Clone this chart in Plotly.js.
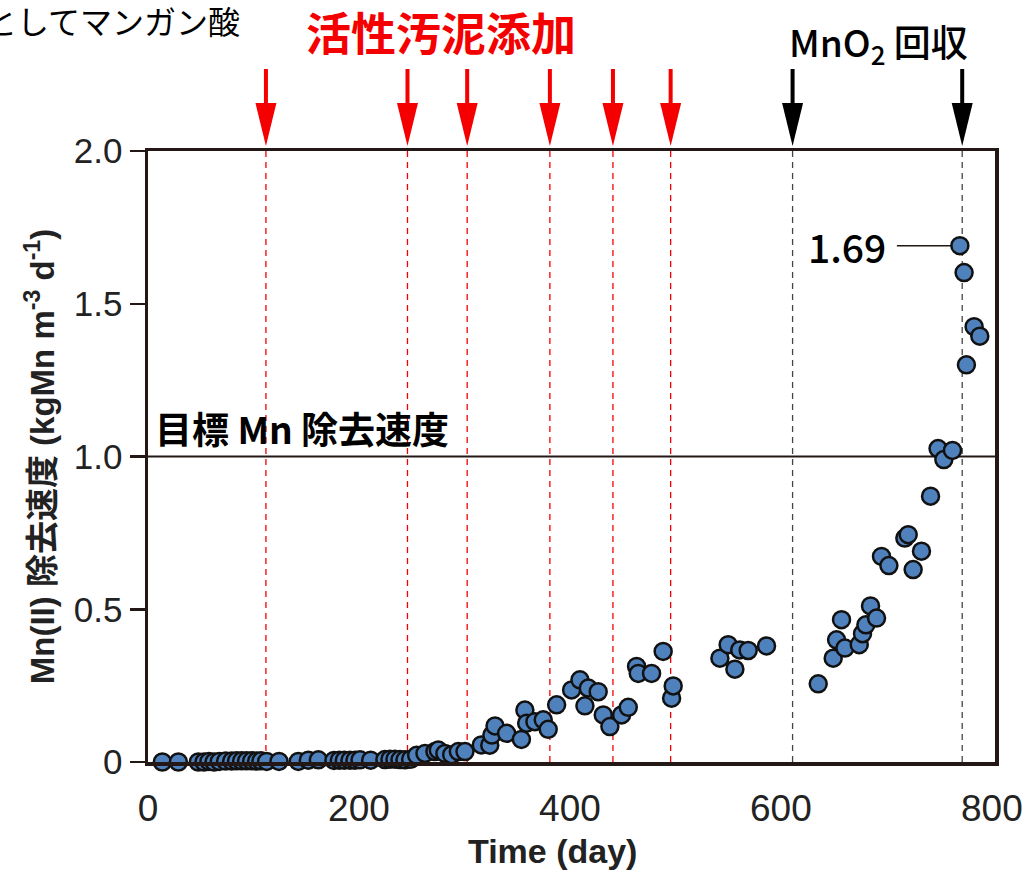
<!DOCTYPE html>
<html>
<head>
<meta charset="utf-8">
<script src="https://cdn.plot.ly/plotly-3.0.1.min.js"></script>
<style>html,body{margin:0;padding:0;background:#fff;}#chart{width:1030px;height:872px;}</style>
</head>
<body>
<div id="chart"></div>
<script>
// ---- data ----
const days = [13.6,28.8,47.7,53.1,57.8,62.6,67.6,73.6,79.3,84,88.8,93.5,98.3,103,107.1,112.5,124.2,142.5,152,161.5,176.3,181.4,186.1,191.5,196.2,201,211.1,224.6,229.4,234.1,238.9,243.6,249,254.7,262.6,272,275.2,281.5,287.9,294.2,300.5,316,324,326,329,340,354,357.3,359,366.8,374.7,379.4,387.4,401.6,409.5,417.4,414.2,426.8,431.6,437.9,449,455.3,463.2,464.8,477.4,488.4,496.4,497.9,542.2,550,556.4,561,569,586.4,635.4,649.6,652.8,657.5,660.7,674.3,677.4,680.6,685,690.7,695.4,702.4,717.5,720.7,725.4,733.3,741.9,749,754.5,762.7,769.7,773.7,775.9,783.2,788.6];
const rates = [0,0,0,0,0.002,0,0.002,0.003,0.003,0.004,0.004,0.004,0.004,0.003,0.004,0.002,0.002,0.002,0.006,0.007,0.005,0.006,0.006,0.006,0.006,0.007,0.006,0.008,0.009,0.009,0.008,0.007,0.009,0.022,0.028,0.034,0.039,0.028,0.024,0.034,0.034,0.056,0.055,0.088,0.118,0.094,0.074,0.17,0.127,0.132,0.138,0.107,0.187,0.236,0.269,0.242,0.184,0.23,0.154,0.116,0.154,0.179,0.313,0.29,0.29,0.362,0.209,0.249,0.34,0.384,0.304,0.367,0.365,0.38,0.256,0.34,0.40,0.466,0.373,0.384,0.42,0.449,0.511,0.471,0.673,0.643,0.733,0.744,0.63,0.69,0.87,1.026,0.99,1.02,1.69,1.602,1.30,1.425,1.394];
const sludgeDays = [111.8, 246, 302.6, 381, 440.8, 495.5];   // 活性汚泥添加
const recoveryDays = [611.1, 771.9];                          // MnO2 回収
const targetRate = 1.0;
const peakLabel = "1.69";
const yTickVals = [0, 0.5, 1.0, 1.5, 2.0];
const yTickText = ["0", "0.5", "1.0", "1.5", "2.0"];
const xTickVals = [0, 200, 400, 600, 800];
const xTickText = ["0", "200", "400", "600", "800"];

// ---- layout helpers ----
const L = 148, R = 995, T = 151, B = 762, W = 1030, H = 872;
const pxPerDay = (R - L) / 803;
const paperY = py => (B - py) / (B - T);
const paperX = px => (px - L) / (R - L);
const RED = '#f50000';
const DARK = '#231815';
const LATIN = 'Liberation Sans, Arial, Noto Sans CJK JP, sans-serif';
const CJK = 'Noto Sans CJK JP, Liberation Sans, sans-serif';

const shapes = [];
function arrow(d, color) {
  const hw = 10.5 / pxPerDay;
  shapes.push({type:'line', xref:'x', yref:'paper', x0:d, x1:d, y0:paperY(106), y1:paperY(69),
               line:{color:color, width:4}, layer:'above'});
  shapes.push({type:'path', xref:'x', yref:'paper',
               path:`M ${d-hw},${paperY(103)} L ${d+hw},${paperY(103)} L ${d},${paperY(146)} Z`,
               fillcolor:color, line:{color:color, width:0}, layer:'above'});
}
sludgeDays.forEach(d => {
  shapes.push({type:'line', xref:'x', yref:'y', x0:d, x1:d, y0:0, y1:2,
               line:{color:RED, width:1.3, dash:'6px,5px'}, layer:'below'});
  arrow(d, RED);
});
recoveryDays.forEach(d => {
  shapes.push({type:'line', xref:'x', yref:'y', x0:d, x1:d, y0:0, y1:2,
               line:{color:'#444', width:1.3, dash:'6px,5px'}, layer:'below'});
  arrow(d, '#000');
});
// target line
shapes.push({type:'line', xref:'paper', yref:'y', x0:0, x1:1, y0:targetRate, y1:targetRate,
             line:{color:DARK, width:2}, layer:'below'});
// peak label leader
const peakIdx = rates.indexOf(Math.max(...rates));
const peakDay = days[peakIdx], peakVal = rates[peakIdx];
shapes.push({type:'line', xref:'x', yref:'y', x0:peakDay - 63/pxPerDay, x1:peakDay - 8/pxPerDay,
             y0:peakVal, y1:peakVal, line:{color:DARK, width:1.5}, layer:'below'});

const annotations = [
  {text:'としてマンガン酸', xref:'paper', yref:'paper', x:paperX(242), y:paperY(20),
   xanchor:'right', yanchor:'middle', showarrow:false, font:{family:CJK, size:32, color:'#000'}},
  {text:'活性汚泥添加', xref:'paper', yref:'paper', x:paperX(441), y:paperY(32),
   xanchor:'center', yanchor:'middle', showarrow:false, font:{family:CJK, size:45, color:RED, weight:700}},
  {text:'MnO<sub>2</sub> 回収', xref:'paper', yref:'paper', x:paperX(878), y:paperY(43),
   xanchor:'center', yanchor:'middle', showarrow:false, font:{family:CJK, size:37, color:'#000', weight:500}},
  {text:'目標 Mn 除去速度', xref:'paper', yref:'y', x:paperX(153), y:targetRate + 0.092,
   xanchor:'left', yanchor:'middle', showarrow:false, font:{family:CJK, size:37, color:'#000', weight:700}},
  {text:peakLabel, xref:'x', yref:'y', x:peakDay - 72/pxPerDay, y:peakVal,
   xanchor:'right', yanchor:'middle', showarrow:false, font:{family:CJK, size:39, color:'#000', weight:500}},
  {text:'<b>Time (day)</b>', xref:'paper', yref:'paper', x:paperX(552), y:paperY(851),
   xanchor:'center', yanchor:'middle', showarrow:false, font:{family:LATIN, size:34, color:'#222'}}
];

const trace = {
  type:'scatter', mode:'markers', x:days, y:rates,
  marker:{size:17, color:'#4f81bd', line:{color:'#111', width:2.5}},
  cliponaxis:false, hoverinfo:'x+y'
};

const layout = {
  width:W, height:H,
  margin:{l:L, r:W-R, t:T, b:H-B, pad:0},
  paper_bgcolor:'#fff', plot_bgcolor:'#fff',
  showlegend:false,
  xaxis:{range:[0,803], showgrid:false, zeroline:false, showline:true, mirror:true,
         linecolor:DARK, linewidth:3.5, ticks:'outside', ticklen:11, tickcolor:'rgba(0,0,0,0)',
         tickvals:xTickVals, ticktext:xTickText, tickfont:{family:LATIN, size:37, color:'#222'}},
  yaxis:{range:[0,2], showgrid:false, zeroline:false, showline:true, mirror:true,
         linecolor:DARK, linewidth:3.5, ticks:'outside', ticklen:15, tickwidth:2.5, tickcolor:DARK,
         tickvals:yTickVals, ticktext:yTickText, tickfont:{family:LATIN, size:35, color:'#222'},
         title:{text:'<b>Mn(II) 除去速度 (kgMn m<sup>-3</sup> d<sup>-1</sup>)</b>', standoff:10,
                font:{family:LATIN, size:33, color:'#222'}}},
  shapes:shapes, annotations:annotations
};

Plotly.newPlot('chart', [trace], layout, {displayModeBar:false, staticPlot:true});
</script>
</body>
</html>
